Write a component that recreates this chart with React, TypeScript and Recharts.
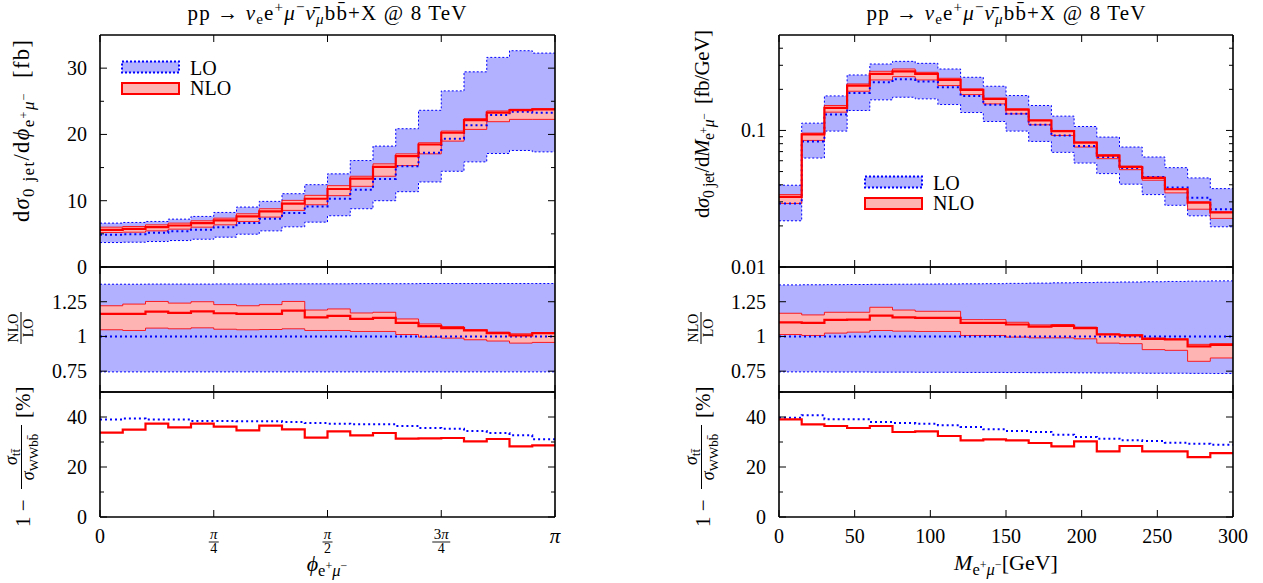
import React from 'react';
import { ComposedChart, Area, Line, XAxis, YAxis, Legend } from 'recharts';

const FONT = "'Liberation Serif', 'DejaVu Serif', 'Times New Roman', serif";
const FS = { fontFamily: FONT } as const;

// ---------- bin edges ----------
const PHI_EDGE_FRAC = [0, 0.05, 0.1, 0.15, 0.2, 0.25, 0.3, 0.35, 0.4, 0.45, 0.5, 0.55, 0.6, 0.65, 0.7, 0.75, 0.8, 0.85, 0.9, 0.95, 1];
const PHI_EDGES = PHI_EDGE_FRAC.map((f) => f * Math.PI);
const M_EDGES = [0, 15, 30, 45, 60, 75, 90, 105, 120, 135, 150, 165, 180, 195, 210, 225, 240, 255, 270, 285, 300];

// ---------- phi distribution [fb] ----------
const PHI_LO_UP = [6.62, 6.72, 6.87, 7.22, 7.63, 8.23, 9.04, 9.9, 11.06, 12.42, 14.05, 16.06, 18.24, 20.86, 23.64, 26.57, 29.44, 31.62, 32.63, 32.27];
const PHI_LO_DN = [3.69, 3.74, 3.84, 3.99, 4.19, 4.5, 4.95, 5.45, 6.06, 6.77, 7.73, 8.79, 10.0, 11.36, 12.83, 14.44, 15.86, 17.12, 17.58, 17.37];
const PHI_LO = [4.85, 4.95, 5.15, 5.4, 5.61, 6.01, 6.62, 7.27, 8.13, 9.14, 10.3, 11.67, 13.29, 15.2, 17.22, 19.35, 21.37, 22.93, 23.44, 23.28];
const PHI_NLO = [5.61, 5.76, 6.01, 6.26, 6.62, 7.02, 7.63, 8.38, 9.55, 10.3, 11.77, 13.33, 15.1, 16.72, 18.48, 20.25, 22.17, 23.28, 23.68, 23.79];
const PHI_NLO_UP = [6.01, 6.11, 6.36, 6.62, 6.97, 7.37, 8.03, 8.79, 10.05, 10.81, 12.27, 13.69, 15.56, 17.07, 18.74, 20.51, 22.38, 23.54, 23.79, 23.89];
const PHI_NLO_DN = [5.2, 5.25, 5.45, 5.71, 6.01, 6.36, 6.87, 7.53, 8.54, 9.39, 10.76, 12.17, 13.69, 15.3, 17.07, 18.99, 20.76, 21.92, 22.27, 22.27];

// ---------- phi ratio NLO/LO ----------
const PHI_R_LO_UP = [1.376, 1.376, 1.377, 1.377, 1.377, 1.378, 1.378, 1.378, 1.379, 1.379, 1.379, 1.38, 1.38, 1.38, 1.381, 1.381, 1.381, 1.381, 1.381, 1.381];
const PHI_R_LO_DN = [0.745, 0.745, 0.745, 0.745, 0.745, 0.745, 0.745, 0.745, 0.745, 0.745, 0.745, 0.745, 0.745, 0.745, 0.745, 0.745, 0.745, 0.745, 0.745, 0.745];
const PHI_R_LO = [1, 1, 1, 1, 1, 1, 1, 1, 1, 1, 1, 1, 1, 1, 1, 1, 1, 1, 1, 1];
const PHI_R_NLO = [1.162, 1.162, 1.179, 1.169, 1.181, 1.167, 1.162, 1.162, 1.186, 1.138, 1.148, 1.126, 1.133, 1.098, 1.074, 1.06, 1.043, 1.024, 1.007, 1.024];
const PHI_R_NLO_UP = [1.221, 1.233, 1.252, 1.24, 1.25, 1.229, 1.221, 1.229, 1.252, 1.19, 1.198, 1.169, 1.174, 1.126, 1.09, 1.071, 1.048, 1.031, 1.019, 1.026];
const PHI_R_NLO_DN = [1.048, 1.043, 1.06, 1.055, 1.062, 1.052, 1.048, 1.05, 1.055, 1.043, 1.043, 1.036, 1.036, 1.014, 0.995, 0.988, 0.976, 0.967, 0.952, 0.957];

// ---------- phi: 1 - sigma_tt / sigma_WWbb [%] ----------
const PHI_F_LO = [38.96, 39.4, 38.96, 38.96, 38.4, 38.4, 38.3, 38.3, 38.01, 37.6, 37.35, 37.1, 37.1, 36.4, 35.6, 35.35, 34.4, 33.6, 32.7, 31.08];
const PHI_F_NLO = [33.75, 34.95, 37.35, 35.88, 37.35, 36.15, 34.68, 36.55, 35.08, 31.75, 34.28, 32.68, 33.6, 31.35, 31.48, 31.61, 30.28, 31.21, 28.28, 28.68];

// ---------- M distribution [fb/GeV] ----------
const M_LO_UP = [0.0397, 0.1131, 0.179, 0.2549, 0.3066, 0.3206, 0.3101, 0.2819, 0.2451, 0.2107, 0.1801, 0.1523, 0.1273, 0.1069, 0.0894, 0.0756, 0.0639, 0.0534, 0.0449, 0.0375];
const M_LO_DN = [0.0218, 0.0628, 0.0989, 0.14, 0.1675, 0.1751, 0.1703, 0.1548, 0.1353, 0.1163, 0.0989, 0.0831, 0.0691, 0.0577, 0.0483, 0.0404, 0.0339, 0.0283, 0.0237, 0.0197];
const M_LO = [0.0292, 0.0831, 0.1309, 0.1884, 0.2253, 0.2369, 0.2278, 0.2071, 0.179, 0.154, 0.1323, 0.11, 0.0919, 0.0768, 0.0639, 0.0531, 0.0456, 0.0382, 0.0321, 0.0265];
const M_NLO = [0.0326, 0.0935, 0.1463, 0.2131, 0.2593, 0.2711, 0.2593, 0.2343, 0.198, 0.1703, 0.1423, 0.1183, 0.0989, 0.0813, 0.0653, 0.054, 0.0449, 0.0371, 0.0296, 0.0251];
const M_NLO_UP = [0.0339, 0.0956, 0.1523, 0.2191, 0.2711, 0.2819, 0.2666, 0.241, 0.2014, 0.1722, 0.1439, 0.1196, 0.1, 0.0822, 0.0664, 0.0549, 0.0456, 0.0375, 0.03, 0.0253];
const M_NLO_DN = [0.0292, 0.0845, 0.1361, 0.1937, 0.2343, 0.2478, 0.2343, 0.2131, 0.1831, 0.1565, 0.1323, 0.11, 0.0919, 0.0756, 0.0621, 0.0516, 0.0432, 0.0349, 0.0265, 0.0227];

// ---------- M ratio NLO/LO ----------
const M_R_LO_UP = [1.371, 1.372, 1.373, 1.374, 1.375, 1.376, 1.377, 1.378, 1.379, 1.38, 1.382, 1.384, 1.386, 1.388, 1.39, 1.392, 1.394, 1.396, 1.398, 1.4];
const M_R_LO_DN = [0.745, 0.745, 0.744, 0.744, 0.743, 0.743, 0.742, 0.742, 0.741, 0.741, 0.74, 0.739, 0.739, 0.738, 0.737, 0.736, 0.735, 0.735, 0.734, 0.733];
const M_R_LO = [1, 1, 1, 1, 1, 1, 1, 1, 1, 1, 1, 1, 1, 1, 1, 1, 1, 1, 1, 1];
const M_R_NLO = [1.102, 1.098, 1.119, 1.121, 1.15, 1.138, 1.133, 1.133, 1.098, 1.098, 1.086, 1.071, 1.076, 1.06, 1.014, 1.007, 0.983, 0.979, 0.929, 0.94];
const M_R_NLO_UP = [1.167, 1.155, 1.174, 1.174, 1.21, 1.19, 1.181, 1.181, 1.121, 1.121, 1.102, 1.083, 1.086, 1.067, 1.019, 1.012, 0.988, 0.981, 0.943, 0.948];
const M_R_NLO_DN = [1.014, 1.007, 1.024, 1.031, 1.043, 1.038, 1.036, 1.036, 1.007, 1.007, 0.995, 0.99, 0.99, 0.983, 0.952, 0.948, 0.905, 0.9, 0.821, 0.845];

// ---------- M: 1 - sigma_tt / sigma_WWbb [%] ----------
const M_F_LO = [39.75, 40.68, 39.08, 39.08, 38.01, 37.61, 37.35, 36.68, 36.01, 35.08, 34.41, 34.01, 32.95, 32.01, 31.35, 30.68, 30.41, 29.75, 29.35, 28.95];
const M_F_NLO = [39.08, 37.08, 36.41, 35.61, 36.41, 34.01, 34.28, 32.41, 30.68, 31.08, 30.68, 29.61, 28.28, 30.28, 26.28, 28.41, 26.28, 26.28, 23.95, 25.55];

// ---------- ticks ----------
const PHI_TICKS = [0, Math.PI / 4, Math.PI / 2, (3 * Math.PI) / 4, Math.PI];
const M_TICKS = [0, 50, 100, 150, 200, 250, 300];
const TOP_LIN_TICKS = [0, 5, 10, 15, 20, 25, 30];
const LOG_TICKS = [0.01, 0.02, 0.03, 0.04, 0.05, 0.06, 0.07, 0.08, 0.09, 0.1, 0.2, 0.3, 0.4];
const RATIO_TICKS = [0.75, 1, 1.25];
const FRAC_TICKS = [0, 10, 20, 30, 40, 50];

// ---------- colours ----------
const LO_FILL = '#b1b1ff';
const LO_STROKE = '#0000ff';
const NLO_FILL = '#ffb4b4';
const NLO_STROKE = '#ff0000';

function buildRows(edges: number[], lo: number[], nlo: number[], loDn?: number[], loUp?: number[], nloDn?: number[], nloUp?: number[]) {
  return edges.map((x, i) => {
    const j = Math.min(i, lo.length - 1);
    const r: any = { x, lo: lo[j], nlo: nlo[j] };
    if (loDn && loUp) r.loBand = [loDn[j], loUp[j]];
    if (nloDn && nloUp) r.nloBand = [nloDn[j], nloUp[j]];
    return r;
  });
}

const phiTop = buildRows(PHI_EDGES, PHI_LO, PHI_NLO, PHI_LO_DN, PHI_LO_UP, PHI_NLO_DN, PHI_NLO_UP);
const phiRatio = buildRows(PHI_EDGES, PHI_R_LO, PHI_R_NLO, PHI_R_LO_DN, PHI_R_LO_UP, PHI_R_NLO_DN, PHI_R_NLO_UP);
const phiFrac = buildRows(PHI_EDGES, PHI_F_LO, PHI_F_NLO);
const mTop = buildRows(M_EDGES, M_LO, M_NLO, M_LO_DN, M_LO_UP, M_NLO_DN, M_NLO_UP);
const mRatio = buildRows(M_EDGES, M_R_LO, M_R_NLO, M_R_LO_DN, M_R_LO_UP, M_R_NLO_DN, M_R_NLO_UP);
const mFrac = buildRows(M_EDGES, M_F_LO, M_F_NLO);

const near = (a: number, b: number) => Math.abs(a - b) < 1e-9;
const TK = { stroke: '#000', strokeWidth: 1 };
const MAJ = 7;
const MIN = 4;

type LabelFn = (v: number, x: number, y: number) => React.ReactNode;

const tickBottom = (label?: LabelFn) => (props: any) => {
  const { x, y, payload } = props;
  return (
    <g>
      <line x1={x} y1={y} x2={x} y2={y - MAJ} {...TK} />
      {label ? label(payload.value, x, y) : null}
    </g>
  );
};
const tickTop = () => (props: any) => {
  const { x, y } = props;
  return <line x1={x} y1={y} x2={x} y2={y + MAJ} {...TK} />;
};
const tickLeft = (minor: (v: number) => boolean, label: (v: number) => string | null) => (props: any) => {
  const { x, y, payload } = props;
  const v = payload.value;
  const len = minor(v) ? MIN : MAJ;
  const s = label(v);
  return (
    <g>
      <line x1={x} y1={y} x2={x + len} y2={y} {...TK} />
      {s !== null ? (
        <text x={x - 13} y={y} dy="0.34em" textAnchor="end" fontSize={20} style={FS} fill="#000">
          {s}
        </text>
      ) : null}
    </g>
  );
};
const tickRight = (minor: (v: number) => boolean) => (props: any) => {
  const { x, y, payload } = props;
  const len = minor(payload.value) ? MIN : MAJ;
  return <line x1={x} y1={y} x2={x - len} y2={y} {...TK} />;
};

const phiLabel: LabelFn = (v, x, y) => {
  const k = Math.round(v / (Math.PI / 4));
  if (k === 0)
    return (
      <text x={x} y={y + 26} textAnchor="middle" fontSize={20} style={FS} fill="#000">0</text>
    );
  if (k === 4)
    return (
      <text x={x} y={y + 26} textAnchor="middle" fontSize={21} style={FS} fontStyle="italic" fill="#000">π</text>
    );
  const half = k === 3 ? 9 : 5;
  return (
    <g>
      <text x={x} y={y + 22} textAnchor="middle" fontSize={15} style={FS} fill="#000">
        {k === 3 ? '3' : ''}
        <tspan fontStyle="italic">π</tspan>
      </text>
      <line x1={x - half} x2={x + half} y1={y + 25} y2={y + 25} stroke="#000" strokeWidth={0.9} />
      <text x={x} y={y + 36} textAnchor="middle" fontSize={14} style={FS} fill="#000">
        {k === 2 ? '2' : '4'}
      </text>
    </g>
  );
};
const mLabel: LabelFn = (v, x, y) => (
  <text x={x} y={y + 26} textAnchor="middle" fontSize={20} style={FS} fill="#000">{String(v)}</text>
);

const LegendBox = () => (
  <svg width={130} height={40} style={{ display: 'block', overflow: 'visible' }}>
    <rect x={1} y={2.5} width={57} height={11} fill={LO_FILL} stroke={LO_STROKE} strokeWidth={2} strokeDasharray="2 2" />
    <text x={69} y={15.5} fontSize={20} style={FS} fill="#000">LO</text>
    <rect x={1} y={24} width={57} height={11} fill={NLO_FILL} stroke={NLO_STROKE} strokeWidth={2} />
    <text x={69} y={36} fontSize={20} style={FS} fill="#000">NLO</text>
  </svg>
);

const L = 70;
const R = 30;
const T = 12;
const AXIS_LINE = { stroke: '#000', strokeWidth: 1.6 };

type PanelProps = {
  px: number;
  py: number;
  pw: number;
  ph: number;
  B: number;
  data: any[];
  xDomain: [number, number];
  xTicks: number[];
  xLabel?: LabelFn;
  yDomain: [number, number];
  yTicks: number[];
  log?: boolean;
  yMinor: (v: number) => boolean;
  yLabel: (v: number) => string | null;
  bands: boolean;
  legend?: { left: number; top: number };
};

function Panel(p: PanelProps) {
  const W = p.pw + L + R;
  const H = p.ph + T + p.B;
  return (
    <div style={{ position: 'absolute', left: p.px - L, top: p.py - T, width: W, height: H }}>
      <ComposedChart width={W} height={H} data={p.data} margin={{ top: 0, right: 0, bottom: 0, left: 0 }}>
        {p.bands && (
          <Area xAxisId="b" yAxisId="l" dataKey="loBand" type="stepAfter" fill={LO_FILL} fillOpacity={1} stroke={LO_STROKE} strokeWidth={1} strokeDasharray="2 2" isAnimationActive={false} dot={false} activeDot={false} />
        )}
        {p.bands && (
          <Area xAxisId="b" yAxisId="l" dataKey="nloBand" type="stepAfter" fill={NLO_FILL} fillOpacity={1} stroke={NLO_STROKE} strokeWidth={1} strokeOpacity={0.85} isAnimationActive={false} dot={false} activeDot={false} />
        )}
        <Line xAxisId="b" yAxisId="l" dataKey="lo" type="stepAfter" stroke={LO_STROKE} strokeWidth={2} strokeDasharray="2 3" dot={false} activeDot={false} isAnimationActive={false} />
        <Line xAxisId="b" yAxisId="l" dataKey="nlo" type="stepAfter" stroke={NLO_STROKE} strokeWidth={2.2} dot={false} activeDot={false} isAnimationActive={false} />
        {p.legend && (
          <Legend layout="vertical" align="center" verticalAlign="middle" wrapperStyle={{ left: p.legend.left, top: p.legend.top, width: 130, height: 40 }} content={() => <LegendBox />} />
        )}
        <XAxis xAxisId="b" orientation="bottom" dataKey="x" type="number" domain={p.xDomain} ticks={p.xTicks} interval={0} height={p.B} tickSize={0} tickMargin={0} tickLine={false} axisLine={AXIS_LINE} tick={tickBottom(p.xLabel)} allowDataOverflow />
        <XAxis xAxisId="t" orientation="top" dataKey="x" type="number" domain={p.xDomain} ticks={p.xTicks} interval={0} height={T} tickSize={0} tickMargin={0} tickLine={false} axisLine={AXIS_LINE} tick={tickTop()} allowDataOverflow />
        <YAxis yAxisId="l" orientation="left" type="number" scale={p.log ? 'log' : 'linear'} domain={p.yDomain} ticks={p.yTicks} interval={0} width={L} tickSize={0} tickMargin={0} tickLine={false} axisLine={AXIS_LINE} tick={tickLeft(p.yMinor, p.yLabel)} allowDataOverflow />
        <YAxis yAxisId="r" orientation="right" type="number" scale={p.log ? 'log' : 'linear'} domain={p.yDomain} ticks={p.yTicks} interval={0} width={R} tickSize={0} tickMargin={0} tickLine={false} axisLine={AXIS_LINE} tick={tickRight(p.yMinor)} allowDataOverflow />
      </ComposedChart>
    </div>
  );
}

// ---------- rich text helper ----------
type Seg = { t: string; o?: number; s?: number; i?: boolean };
function Rich({ x, y, segs, size = 20, anchor = 'middle', rot = false, len }: { x: number; y: number; segs: Seg[]; size?: number; anchor?: string; rot?: boolean; len?: number }) {
  let prev = 0;
  return (
    <text
      x={x}
      y={y}
      fontSize={size}
      textAnchor={anchor as any}
      fill="#000"
      textLength={len}
      lengthAdjust={len ? 'spacing' : undefined}
      transform={rot ? `rotate(-90 ${x} ${y})` : undefined}
      style={{ whiteSpace: 'pre', fontFamily: FONT }}
    >
      {segs.map((g, k) => {
        const o = g.o ?? 0;
        const dy = o - prev;
        prev = o;
        return (
          <tspan key={k} dy={dy} fontSize={size * (g.s ?? 1)} fontStyle={g.i ? 'italic' : 'normal'}>
            {g.t}
          </tspan>
        );
      })}
    </text>
  );
}

const TITLE: Seg[] = [
  { t: 'pp → ' },
  { t: 'ν', i: true },
  { t: 'e', o: 4, s: 0.72 },
  { t: 'e', o: 0 },
  { t: '+', o: -8, s: 0.72 },
  { t: 'μ', o: 0, i: true },
  { t: '−', o: -8, s: 0.72 },
  { t: 'ν̄', o: 0, i: true },
  { t: 'μ', o: 4, s: 0.72, i: true },
  { t: 'bb̄+X @ 8 TeV', o: 0 },
];
const SUB_EMU: Seg[] = [
  { t: 'e', o: 5, s: 0.75 },
  { t: '+', o: -1, s: 0.55 },
  { t: 'μ', o: 5, s: 0.75, i: true },
  { t: '−', o: -1, s: 0.55 },
];

function ColumnLabels({ dx, variable, unit, cy, len, size }: { dx: number; variable: string; unit: string; cy: number; len: number; size: number }) {
  const yl: Seg[] = [
    { t: 'd' },
    { t: 'σ', i: true },
    { t: '0 jet', o: 5, s: 0.75 },
    { t: '/d', o: 0 },
    { t: variable, i: true },
    ...SUB_EMU,
    { t: '  ' + unit, o: 0 },
  ];
  return (
    <g>
      <Rich x={29 + dx} y={cy} segs={yl} size={size} rot len={len} />
      {/* NLO / LO */}
      <g transform={`translate(${21 + dx},328) rotate(-90)`}>
        <text x={0} y={-3} textAnchor="middle" fontSize={14} style={FS} fill="#000">NLO</text>
        <line x1={-16} x2={16} y1={0} y2={0} stroke="#000" strokeWidth={1} />
        <text x={0} y={12} textAnchor="middle" fontSize={14} style={FS} fill="#000">LO</text>
      </g>
      {/* 1 - sigma_tt / sigma_WWbb [%] */}
      <g transform={`translate(${30 + dx},456) rotate(-90)`}>
        <text x={-71} y={0} fontSize={21} style={{ ...FS, whiteSpace: 'pre' }} fill="#000">1 −</text>
        <text x={-1} y={-13} textAnchor="middle" fontSize={18} style={FS} fill="#000">
          <tspan fontStyle="italic">σ</tspan>
          <tspan fontSize={13} dy={3}>tt̄</tspan>
        </text>
        <line x1={-33} x2={31} y1={-8.5} y2={-8.5} stroke="#000" strokeWidth={1} />
        <text x={-1} y={4} textAnchor="middle" fontSize={18} style={FS} fill="#000">
          <tspan fontStyle="italic">σ</tspan>
          <tspan fontSize={13} dy={3.5}>WWbb̄</tspan>
        </text>
        <text x={38} y={0} fontSize={21} style={FS} fill="#000">[%]</text>
      </g>
    </g>
  );
}

export default function App() {
  const left = { px: 100, pw: 455 };
  const right = { px: 779, pw: 454 };
  const top = { py: 35, ph: 232 };
  const mid = { py: 267, ph: 125 };
  const bot = { py: 392, ph: 125 };
  return (
    <div style={{ position: 'absolute', left: 0, top: 0, width: 1263, height: 583, background: '#fff', overflow: 'hidden', fontFamily: FONT }}>
      {/* left column: phi */}
      <Panel {...left} {...top} B={12} data={phiTop} xDomain={[0, Math.PI]} xTicks={PHI_TICKS} yDomain={[0, 35]} yTicks={TOP_LIN_TICKS} yMinor={(v) => v % 10 !== 0} yLabel={(v) => (v % 10 === 0 ? String(v) : null)} bands legend={{ left: 91, top: 36 }} />
      <Panel {...left} {...mid} B={12} data={phiRatio} xDomain={[0, Math.PI]} xTicks={PHI_TICKS} yDomain={[0.6, 1.5]} yTicks={RATIO_TICKS} yMinor={() => false} yLabel={(v) => String(v)} bands />
      <Panel {...left} {...bot} B={60} data={phiFrac} xDomain={[0, Math.PI]} xTicks={PHI_TICKS} xLabel={phiLabel} yDomain={[0, 50]} yTicks={FRAC_TICKS} yMinor={(v) => v % 20 !== 0} yLabel={(v) => (v % 20 === 0 ? String(v) : null)} bands={false} />
      {/* right column: M */}
      <Panel {...right} {...top} B={12} data={mTop} xDomain={[0, 300]} xTicks={M_TICKS} yDomain={[0.01, 0.5]} yTicks={LOG_TICKS} log yMinor={(v) => !(near(v, 0.01) || near(v, 0.1))} yLabel={(v) => (near(v, 0.01) ? '0.01' : near(v, 0.1) ? '0.1' : null)} bands legend={{ left: 155, top: 151 }} />
      <Panel {...right} {...mid} B={12} data={mRatio} xDomain={[0, 300]} xTicks={M_TICKS} yDomain={[0.6, 1.5]} yTicks={RATIO_TICKS} yMinor={() => false} yLabel={(v) => String(v)} bands />
      <Panel {...right} {...bot} B={60} data={mFrac} xDomain={[0, 300]} xTicks={M_TICKS} xLabel={mLabel} yDomain={[0, 50]} yTicks={FRAC_TICKS} yMinor={(v) => v % 20 !== 0} yLabel={(v) => (v % 20 === 0 ? String(v) : null)} bands={false} />

      <svg width={1263} height={583} style={{ position: 'absolute', left: 0, top: 0, pointerEvents: 'none' }}>
        <Rich x={327} y={20} segs={TITLE} size={21} len={279} />
        <Rich x={1006} y={20} segs={TITLE} size={21} len={279} />
        <Rich x={327} y={571} size={22} segs={[{ t: 'ϕ', i: true }, ...SUB_EMU]} />
        <Rich x={1006} y={570} size={22} segs={[{ t: 'M', i: true }, ...SUB_EMU, { t: '[GeV]', o: 0 }]} />
        <ColumnLabels dx={0} variable="ϕ" unit="[fb]" cy={131} len={182} size={22.5} />
        <ColumnLabels dx={680} variable="M" unit="[fb/GeV]" cy={124} len={188} size={21} />
      </svg>
    </div>
  );
}
